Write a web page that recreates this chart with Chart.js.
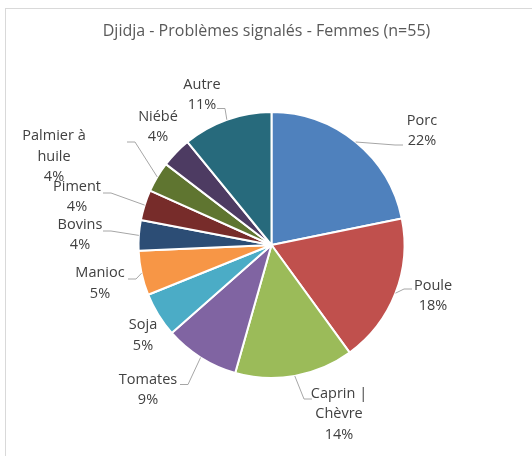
<!DOCTYPE html>
<html>
<head>
<meta charset="utf-8">
<script src="https://cdn.jsdelivr.net/npm/chart.js@4.4.1/dist/chart.umd.min.js"></script>
<style>
  html, body { margin: 0; padding: 0; background: #fff; }
  #wrap { position: relative; width: 532px; height: 456px; overflow: hidden; }
  #frame { position: absolute; left: 5px; top: 8px; width: 600px; height: 600px; border: 1px solid #d9d9d9; }
  canvas { position: absolute; left: 0; top: 0; }
</style>
</head>
<body>
<div id="wrap">
  <div id="frame"></div>
  <canvas id="chart" width="532" height="456"></canvas>
</div>
<script>
const title = 'Djidja - Problèmes signalés - Femmes (n=55)';
const categories = ['Porc', 'Poule', 'Caprin | Chèvre', 'Tomates', 'Soja', 'Manioc', 'Bovins', 'Piment', 'Palmier à huile', 'Niébé', 'Autre'];
const shares = [21.8, 18.2, 14.4, 9.1, 5.4, 5.4, 3.7, 3.7, 3.7, 3.7, 10.9];
const colors = ['#4F81BD', '#C0504D', '#9BBB59', '#8064A2', '#4BACC6', '#F79646', '#2C4D75', '#772C2A', '#5F7530', '#4D3B62', '#276A7C'];

// where each label sits, as an offset from the pie centre;
// lead = point (relative to the label centre) where the leader line ends
const labelPos = [
  { dx: 150.5, dy: -114, lead: [-19, 14] },
  { dx: 161.5, dy: 51, lead: [-21, -7] },
  { dx: 67.5, dy: 169, lead: [-27, -15] },
  { dx: -123.5, dy: 145, lead: [32, -5.5] },
  { dx: -128.5, dy: 90.5, lead: null },
  { dx: -171.5, dy: 38.5, lead: [28, -4.5] },
  { dx: -191.5, dy: -10, lead: [23, -4] },
  { dx: -194.5, dy: -48, lead: [26, -4] },
  { dx: -217.5, dy: -88.5, lead: [73, -14.5] },
  { dx: -113.5, dy: -118, lead: null },
  { dx: -69.5, dy: -150, lead: [15, 13.5] }
];

function wrapText(ctx, text, maxW) {
  const words = text.split(' ');
  const lines = [];
  let cur = '';
  words.forEach(w => {
    const test = cur ? cur + ' ' + w : w;
    if (cur && ctx.measureText(test).width > maxW) {
      lines.push(cur);
      cur = w;
    } else {
      cur = test;
    }
  });
  if (cur) lines.push(cur);
  return lines;
}

// title + outside labels with leader lines, Excel style
const pieLabels = {
  id: 'pieLabels',
  afterDraw(chart) {
    const ctx = chart.ctx;
    const arcs = chart.getDatasetMeta(0).data;
    const total = shares.reduce((a, b) => a + b, 0);
    ctx.save();
    ctx.textAlign = 'center';
    ctx.textBaseline = 'middle';

    ctx.font = '16px "Open Sans"';
    ctx.fillStyle = '#595959';
    ctx.fillText(title, 266.5, 31);

    ctx.font = '14.5px "Open Sans"';
    ctx.strokeStyle = '#a6a6a6';
    ctx.lineWidth = 1;
    arcs.forEach((arc, i) => {
      const p = labelPos[i];
      const cx = arc.x + p.dx;
      const cy = arc.y + p.dy;
      if (p.lead) {
        const mid = (arc.startAngle + arc.endAngle) / 2;
        const ex = arc.x + arc.outerRadius * Math.cos(mid);
        const ey = arc.y + arc.outerRadius * Math.sin(mid);
        const ax = cx + p.lead[0];
        const ay = cy + p.lead[1];
        const kx = ax + (ex > ax ? 8 : -8);
        ctx.beginPath();
        ctx.moveTo(ex, ey);
        ctx.lineTo(kx, ay);
        ctx.lineTo(ax, ay);
        ctx.stroke();
      }
      const lines = wrapText(ctx, categories[i], 70);
      lines.push(Math.round(shares[i] / total * 100) + '%');
      const lh = 20.5;
      ctx.fillStyle = '#404040';
      lines.forEach((t, k) => {
        ctx.fillText(t, cx, cy + (k - (lines.length - 1) / 2) * lh);
      });
    });
    ctx.restore();
  }
};

new Chart(document.getElementById('chart'), {
  type: 'pie',
  data: {
    labels: categories,
    datasets: [{
      data: shares,
      backgroundColor: colors,
      borderColor: '#ffffff',
      borderWidth: 2
    }]
  },
  options: {
    responsive: false,
    animation: false,
    radius: 133,
    layout: { padding: { left: 138, right: 127, top: 112, bottom: 78 } },
    plugins: {
      legend: { display: false },
      tooltip: { enabled: false },
      title: { display: false }
    }
  },
  plugins: [pieLabels]
});
</script>
</body>
</html>
